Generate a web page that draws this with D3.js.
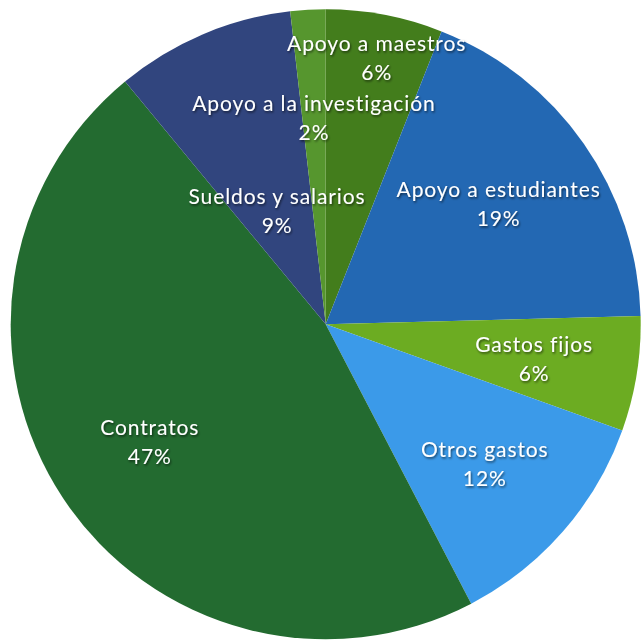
<!DOCTYPE html>
<html>
<head>
<meta charset="utf-8">
<script src="https://cdn.jsdelivr.net/npm/d3@7"></script>
<style>
  html, body { margin: 0; padding: 0; background: #fff; }
  svg { display: block; }
  .label text { font-family: Lato, "Open Sans", sans-serif; fill: #fff; letter-spacing: 0.9px; }
</style>
</head>
<body>
<div id="chart"></div>
<script>
// Data (share of the budget, clockwise from 12 o'clock)
const categories = [
    'Apoyo a maestros',
    'Apoyo a estudiantes',
    'Gastos fijos',
    'Otros gastos',
    'Contratos',
    'Sueldos y salarios',
    'Apoyo a la investigación',
];
const values = [6.0, 18.6, 5.9, 11.9, 46.7, 9.2, 1.8];
const colors = ['#437d1c', '#2368b3', '#6cac22', '#3b9ae9', '#236b30', '#31457e', '#56962e'];

const width = 643;
const height = 640;
const cx = 325.7, cy = 324.3;
const radius = 315;

// where each label sits, as a fraction of the radius (most at ~0.67)
const labelRadius = { 'Apoyo a maestros': 0.865, 'Sueldos y salarios': 0.395, 'Apoyo a la investigación': 0.66 };

const svg = d3.select('#chart')
    .append('svg')
    .attr('width', width)
    .attr('height', height);

const defs = svg.append('defs');
defs.append('filter')
    .attr('id', 'shadow')
    .attr('x', '-10%').attr('y', '-30%').attr('width', '120%').attr('height', '160%')
    .append('feDropShadow')
    .attr('dx', 1).attr('dy', 1.5)
    .attr('stdDeviation', 1)
    .attr('flood-color', '#000')
    .attr('flood-opacity', 0.6);

const data = categories.map((name, i) => ({ name, value: values[i], color: colors[i] }));
const total = d3.sum(values);

const pie = d3.pie().sort(null).value((d) => d.value);
const arcs = pie(data);

const arc = d3.arc().innerRadius(0).outerRadius(radius);

const g = svg.append('g').attr('transform', `translate(${cx}, ${cy})`);

g.selectAll('path')
    .data(arcs)
    .join('path')
    .attr('d', arc)
    .attr('fill', (d) => d.data.color);

const labels = g.append('g').attr('class', 'label');

arcs.forEach((d) => {
    const k = labelRadius[d.data.name] || 0.67;
    const a = (d.startAngle + d.endAngle) / 2;
    const x = Math.sin(a) * radius * k;
    const y = -Math.cos(a) * radius * k;
    const t = labels.append('text')
        .attr('text-anchor', 'middle')
        .attr('font-size', 21)
        .attr('filter', 'url(#shadow)')
        .attr('transform', `translate(${x}, ${y})`);
    t.append('tspan').attr('x', 0).attr('y', -6).text(d.data.name);
    t.append('tspan').attr('x', 0).attr('y', 23).text(Math.round(d.data.value / total * 100) + '%');
});
</script>
</body>
</html>
